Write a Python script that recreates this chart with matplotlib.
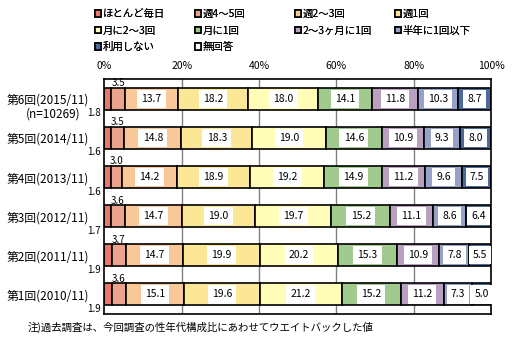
"""Stacked horizontal bars: usage frequency by survey round."""

import matplotlib
matplotlib.use("Agg")
import matplotlib.pyplot as plt
import numpy as np

plt.rcParams['font.family'] = ['Noto Sans CJK JP', 'DejaVu Sans']

# data
rounds = ['第6回(2015/11)', '第5回(2014/11)', '第4回(2013/11)',
          '第3回(2012/11)', '第2回(2011/11)', '第1回(2010/11)']
sample_note = '(n=10269)'
categories = ['ほとんど毎日', '週4～5回', '週2～3回', '週1回',
              '月に2～3回', '月に1回', '2～3ヶ月に1回', '半年に1回以下',
              '利用しない', '無回答']
values = [
    [1.8, 3.5, 13.7, 18.2, 18.0, 14.1, 11.8, 10.3, 8.7, 0.0],
    [1.6, 3.5, 14.8, 18.3, 19.0, 14.6, 10.9, 9.3, 8.0, 0.0],
    [1.6, 3.0, 14.2, 18.9, 19.2, 14.9, 11.2, 9.6, 7.5, 0.0],
    [1.7, 3.6, 14.7, 19.0, 19.7, 15.2, 11.1, 8.6, 6.4, 0.0],
    [1.9, 3.7, 14.7, 19.9, 20.2, 15.3, 10.9, 7.8, 5.5, 0.0],
    [1.9, 3.6, 15.1, 19.6, 21.2, 15.2, 11.2, 7.3, 5.0, 0.0],
]
xticks = [0, 20, 40, 60, 80, 100]
footnote = '注)過去調査は、今回調査の性年代構成比にあわせてウエイトバックした値'

colors = ['#E8786A', '#EBA38D', '#F8C898', '#FCE796', '#FFFDB8',
          '#A0CA8E', '#B9A0C0', '#98A2C8', '#4D6A9C', '#FFFFFF']

fig = plt.figure(figsize=(5.19, 3.45), dpi=100)
ax = fig.add_axes([0.2013, 0.0899, 0.7447, 0.6801])

data = np.array(values)
ypos = np.arange(len(rounds))
left = np.zeros(len(rounds))
handles = []
for j, cat in enumerate(categories):
    bars = ax.barh(ypos, data[:, j], left=left, height=0.56, color=colors[j],
                   edgecolor='black', linewidth=1.2, zorder=2, label=cat)
    handles.append(bars)
    for i in range(len(rounds)):
        v = data[i, j]
        cx = left[i] + v / 2
        if j == 0:
            ax.text(-0.9, i + 0.37, '%.1f' % v, ha='right', va='center',
                    fontsize=7, zorder=4)
        elif j == 1:
            ax.text(cx, i - 0.4, '%.1f' % v, ha='center', va='center',
                    fontsize=7, zorder=4)
        elif v > 0:
            ax.text(cx, i, '%.1f' % v, ha='center', va='center', fontsize=7.5,
                    zorder=4,
                    bbox=dict(facecolor='white', edgecolor='none', pad=3))
    left += data[:, j]

ax.set_xlim(0, 100)
ax.set_ylim(len(rounds) - 0.5, -0.5)
ax.set_xticks(xticks)
ax.set_xticklabels(['%d%%' % t for t in xticks], fontsize=7.5)
ax.xaxis.tick_top()
ax.tick_params(axis='x', length=0, pad=6)
ax.set_yticks(ypos)
ax.set_yticklabels(rounds, fontsize=8.5)
ax.tick_params(axis='y', length=0, pad=11)
for t in xticks[1:-1]:
    ax.axvline(t, color='#808080', linewidth=1, zorder=1)
for s in ax.spines.values():
    s.set_color('black')
    s.set_linewidth(1.2)

fig.text(53 / 519, 1 - 114 / 345, sample_note, ha='center', va='center',
         fontsize=8.5)

# legend laid out row by row, 4 per row: one legend per column
for c in range(4):
    idx = list(range(c, len(categories), 4))
    leg = fig.legend([handles[k] for k in idx], [categories[k] for k in idx],
                     loc='upper left',
                     bbox_to_anchor=((93 + 100 * c) / 519, 1 - 7 / 345),
                     frameon=False, fontsize=7.5, handlelength=0.6,
                     handleheight=0.6, handletextpad=0.15, labelspacing=0.62,
                     borderpad=0.2, borderaxespad=0)
    fig.add_artist(leg)

fig.text(28 / 519, 1 - 327 / 345, footnote, ha='left', va='center',
         fontsize=7.5)

fig.savefig('out.png', dpi=100)
